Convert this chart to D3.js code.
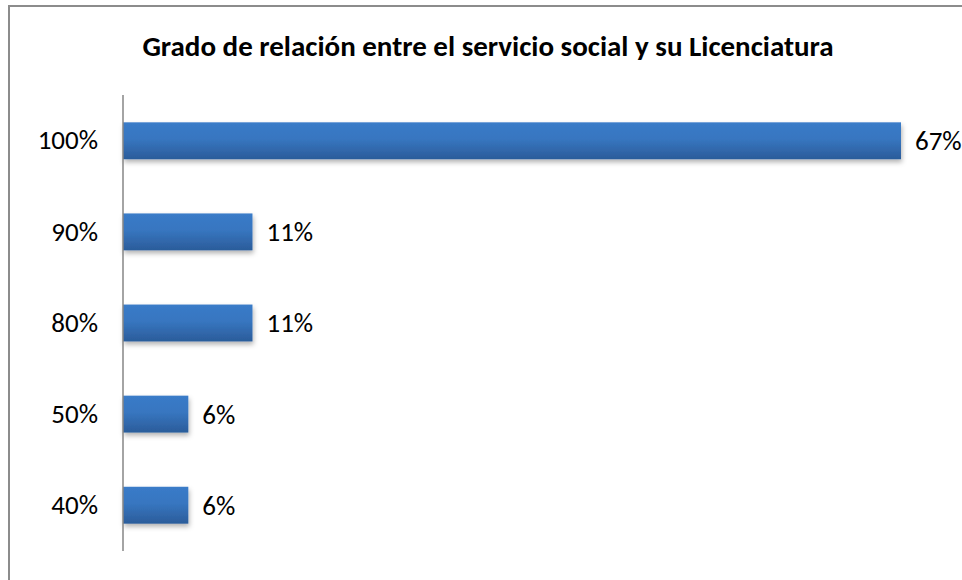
<!doctype html>
<html>
  <head>
    <meta charset="utf-8">
    <title>Grado de relación</title>
    <script src="https://cdnjs.cloudflare.com/ajax/libs/d3/7.8.5/d3.min.js"></script>
    <style>
      body { margin: 0; background: #fff; }
      text { font-family: Carlito, "Open Sans", "Noto Sans", sans-serif; }
    </style>
  </head>
  <body>
    <div id="chart"></div>
    <script>
      // data (labels are rounded shares)
      const categories = ['100%', '90%', '80%', '50%', '40%'];
      const values = [66.7, 11.1, 11.1, 5.6, 5.6];
      const title = 'Grado de relación entre el servicio social y su Licenciatura';

      const width = 962, height = 580;

      const svg = d3.select('#chart')
        .append('svg')
        .attr('width', width)
        .attr('height', height);

      // gradient for the bars
      const defs = svg.append('defs');
      const grad = defs.append('linearGradient')
        .attr('id', 'barGrad')
        .attr('x1', 0).attr('y1', 0).attr('x2', 0).attr('y2', 1);
      grad.append('stop').attr('offset', '0%').attr('stop-color', '#3a7bc8');
      grad.append('stop').attr('offset', '45%').attr('stop-color', '#3776c0');
      grad.append('stop').attr('offset', '100%').attr('stop-color', '#2b5c9a');

      const shadow = defs.append('filter')
        .attr('id', 'shadow')
        .attr('x', '-10%').attr('y', '-20%').attr('width', '130%').attr('height', '160%');
      shadow.append('feDropShadow')
        .attr('dx', 1).attr('dy', 3).attr('stdDeviation', 2.5)
        .attr('flood-color', '#000').attr('flood-opacity', 0.3);

      // chart border (runs off the bottom/right of the picture)
      svg.append('rect')
        .attr('x', 9).attr('y', 6)
        .attr('width', 1000).attr('height', 700)
        .attr('fill', 'none')
        .attr('stroke', '#8c8c8c')
        .attr('stroke-width', 2);

      svg.append('text')
        .attr('x', 488).attr('y', 56)
        .attr('text-anchor', 'middle')
        .style('font-size', '29px')
        .style('font-weight', 'bold')
        .text(title);

      const x = d3.scaleLinear()
        .domain([0, d3.max(values)])
        .range([123, 901]);

      const y = d3.scaleBand()
        .domain(categories)
        .range([95, 551])
        .paddingInner(0.595)
        .paddingOuter(0.3);

      const data = categories.map((c, i) => ({ cat: c, val: values[i] }));

      svg.selectAll('rect.bar')
        .data(data)
        .join('rect')
        .attr('class', 'bar')
        .attr('x', x(0))
        .attr('y', d => y(d.cat))
        .attr('width', d => x(d.val) - x(0))
        .attr('height', y.bandwidth())
        .attr('fill', 'url(#barGrad)')
        .attr('filter', 'url(#shadow)');

      // category axis
      const axis = svg.append('g')
        .attr('transform', `translate(${x(0)},0)`)
        .call(d3.axisLeft(y).tickSize(0).tickPadding(25));
      axis.select('.domain')
        .attr('d', 'M0,95V551')
        .attr('stroke', '#868686')
        .attr('stroke-width', 1.5);
      axis.selectAll('text')
        .style('font-size', '27px')
        .attr('fill', '#000');

      svg.selectAll('text.val')
        .data(data)
        .join('text')
        .attr('class', 'val')
        .attr('x', d => x(d.val) + 14)
        .attr('y', d => y(d.cat) + y.bandwidth() / 2)
        .attr('dy', '0.35em')
        .style('font-size', '27px')
        .text(d => Math.round(d.val) + '%');
    </script>
  </body>
</html>
